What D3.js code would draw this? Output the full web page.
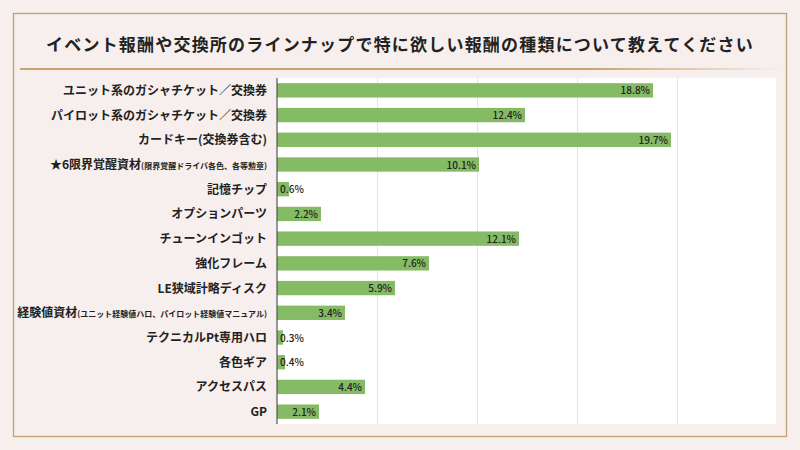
<!DOCTYPE html>
<html><head><meta charset="utf-8">
<script src="https://cdn.jsdelivr.net/npm/d3@7"></script>
<style>body{margin:0;background:#f6efed;}svg{display:block;font-family:"Noto Sans CJK JP",sans-serif;}</style>
</head><body><div id="container"></div>
<script>
const titleText = 'イベント報酬や交換所のラインナップで特に欲しい報酬の種類について教えてください';
const labels = ['ユニット系のガシャチケット／交換券','パイロット系のガシャチケット／交換券','カードキー(交換券含む)','★6限界覚醒資材','記憶チップ','オプションパーツ','チューンインゴット','強化フレーム','LE狭域計略ディスク','経験値資材','テクニカルPt専用ハロ','各色ギア','アクセスパス','GP'];
const subLabels = ['','','','(限界覚醒ドライバ各色、各等勲章)','','','','','','(ユニット経験値ハロ、パイロット経験値マニュアル)','','','',''];
const values = [18.8,12.4,19.7,10.1,0.6,2.2,12.1,7.6,5.9,3.4,0.3,0.4,4.4,2.1];
const gridTicks = [5,10,15,20];

const W = 800, H = 450;
const svg = d3.select('#container').append('svg').attr('width', W).attr('height', H);
const defs = svg.append('defs');
const grad = defs.append('linearGradient').attr('id', 'gold');
grad.append('stop').attr('offset', '0%').attr('stop-color', '#c9a56e');
grad.append('stop').attr('offset', '75%').attr('stop-color', '#c9a56e');
grad.append('stop').attr('offset', '100%').attr('stop-color', '#f6efed');

svg.append('rect').attr('width', W).attr('height', H).attr('fill', '#f6efed');
svg.append('rect').attr('x', 13.5).attr('y', 13.5).attr('width', 773).attr('height', 423)
    .attr('fill', 'none').attr('stroke', '#bfa172').attr('stroke-width', 1.3);
svg.append('text').attr('x', 400).attr('y', 51).attr('text-anchor', 'middle')
    .attr('font-size', 17).attr('font-weight', 700).attr('letter-spacing', 1.2).attr('fill', '#222')
    .text(titleText);
svg.append('rect').attr('x', 20).attr('y', 68).attr('width', 760).attr('height', 2).attr('fill', 'url(#gold)');

const x = d3.scaleLinear().domain([0, 25]).range([277, 777]);
const y = d3.scaleBand().domain(d3.range(labels.length)).range([78, 424]).paddingInner(0.42).paddingOuter(0.21);

svg.append('rect').attr('x', 277).attr('y', 78).attr('width', 499).attr('height', 346).attr('fill', '#fff');
svg.append('g').selectAll('line').data(gridTicks).join('line')
    .attr('x1', d => x(d) + 0.5).attr('x2', d => x(d) + 0.5).attr('y1', 78).attr('y2', 424)
    .attr('stroke', '#e4e4e4').attr('stroke-width', 1);

svg.append('g').selectAll('rect').data(values).join('rect')
    .attr('x', x(0)).attr('y', (d, i) => y(i)).attr('height', y.bandwidth())
    .attr('width', d => x(d) - x(0)).attr('fill', '#84bb64');

svg.append('line').attr('x1', 277).attr('x2', 277).attr('y1', 78).attr('y2', 424)
    .attr('stroke', '#555').attr('stroke-width', 1.2);

svg.append('g').selectAll('text').data(values).join('text')
    .attr('x', d => d < 1 ? x(0) + 3 : x(d) - 3)
    .attr('y', (d, i) => y(i) + y.bandwidth() / 2 + 4)
    .attr('text-anchor', d => d < 1 ? 'start' : 'end')
    .attr('font-size', 10).attr('font-weight', 500).attr('fill', '#222')
    .text(d => d.toFixed(1) + '%');

const lab = svg.append('g').selectAll('text').data(labels).join('text')
    .attr('x', 267).attr('y', (d, i) => y(i) + y.bandwidth() / 2 + 4.5)
    .attr('text-anchor', 'end').attr('font-size', 12).attr('font-weight', 700).attr('fill', '#222');
lab.append('tspan').text(d => d);
lab.append('tspan').attr('font-size', 8).text((d, i) => subLabels[i]);
</script></body></html>
